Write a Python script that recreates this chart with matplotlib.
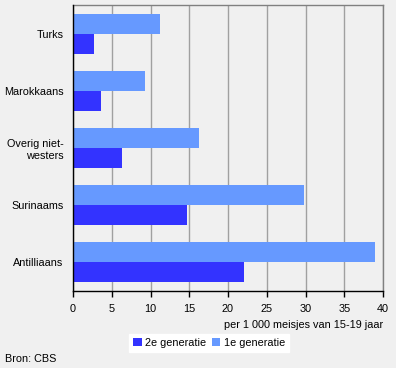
import matplotlib
matplotlib.use("Agg")
import matplotlib.pyplot as plt
import numpy as np

categories = ["Turks", "Marokkaans", "Overig niet-\nwesters", "Surinaams", "Antilliaans"]
gen2 = [2.7, 3.6, 6.3, 14.7, 22.0]
gen1 = [11.2, 9.3, 16.2, 29.8, 39.0]
xticks = [0, 5, 10, 15, 20, 25, 30, 35, 40]

plt.rcParams['font.family'] = ['Liberation Sans', 'DejaVu Sans']
fs = 7.8
plt.rcParams['font.size'] = fs

bg = "#f0f0f0"
c2 = "#3333ff"
c1 = "#6699ff"

fig = plt.figure(figsize=(3.96, 3.68), dpi=100, facecolor=bg)
ax = fig.add_axes([73/396, 1-291/368, 310/396, 286/368], facecolor=bg)

y = np.arange(len(categories))
h = 0.35
ax.barh(y - h/2, gen1, height=h, color=c1, label="1e generatie", zorder=3)
ax.barh(y + h/2, gen2, height=h, color=c2, label="2e generatie", zorder=3)

ax.set_ylim(len(categories) - 0.5, -0.5)
ax.set_xlim(0, 40)
ax.set_yticks(y)
ax.set_yticklabels(categories, ha='right', multialignment='right')
ax.set_xticks(xticks)
ax.set_xticklabels([str(v) for v in xticks])
ax.tick_params(axis='y', length=0, pad=7)
ax.tick_params(axis='x', length=4, width=1, color='black', pad=5, direction='out')
ax.xaxis.grid(True, color='#a0a0a0', linewidth=1, zorder=0)
ax.set_axisbelow(True)
for s in ['top', 'right']:
    ax.spines[s].set_color('#808080')
    ax.spines[s].set_linewidth(1)
for s in ['left', 'bottom']:
    ax.spines[s].set_color('black')
    ax.spines[s].set_linewidth(1)
ax.spines['left'].set_zorder(4)

fig.text(383/396, 1-325/368, "per 1 000 meisjes van 15-19 jaar", ha='right', va='center', fontsize=fs)

handles, labels = ax.get_legend_handles_labels()
leg = fig.legend([handles[1], handles[0]], [labels[1], labels[0]],
                 loc='center', bbox_to_anchor=(209/396, 1-343/368), ncol=2,
                 frameon=True, fancybox=False, facecolor='white', edgecolor='white',
                 handlelength=0.8, handleheight=0.8, handletextpad=0.3, columnspacing=0.5,
                 borderpad=0.35, borderaxespad=0, fontsize=fs, framealpha=1)

fig.text(5/396, 1-359/368, "Bron: CBS", ha='left', va='center', fontsize=fs)

fig.savefig("out.png", dpi=100, facecolor=bg)
